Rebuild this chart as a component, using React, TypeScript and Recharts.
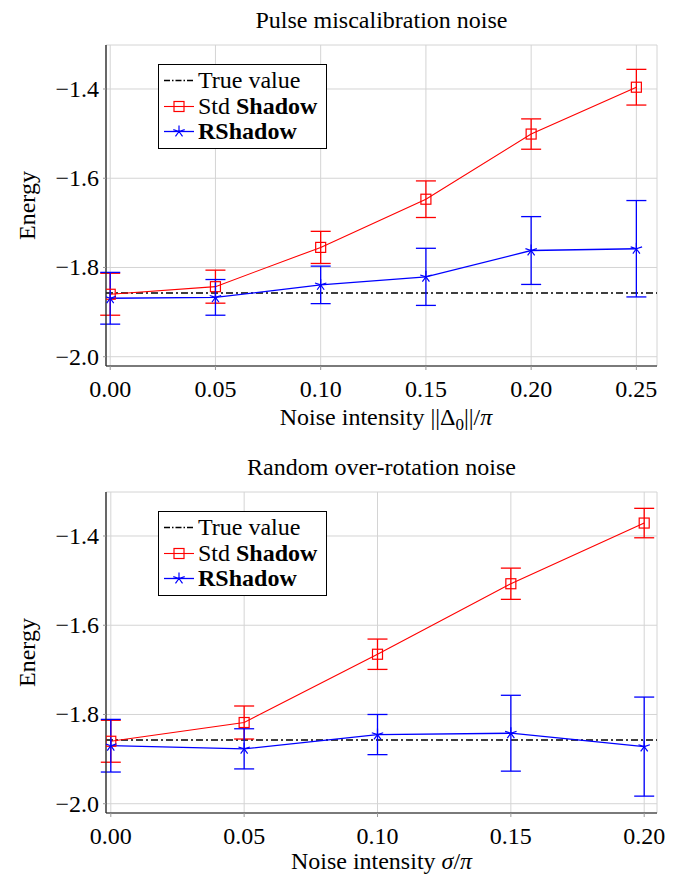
import React from 'react';
import {
  ComposedChart,
  Line,
  XAxis,
  YAxis,
  CartesianGrid,
  ErrorBar,
  ReferenceLine,
  Legend,
} from 'recharts';

const FONT = '"Liberation Serif", "Times New Roman", Times, serif';

// ---- Data: Pulse miscalibration noise ----
const pulseX = [0, 0.05, 0.1, 0.15, 0.2, 0.25];
const pulseStd = [-1.86, -1.843, -1.755, -1.647, -1.501, -1.396];
const pulseStdErr = [0.047, 0.037, 0.036, 0.041, 0.034, 0.04];
const pulseR = [-1.869, -1.867, -1.839, -1.821, -1.762, -1.758];
const pulseRErr = [0.058, 0.04, 0.042, 0.064, 0.076, 0.108];
const pulseXTicks = [0, 0.05, 0.1, 0.15, 0.2, 0.25];

// ---- Data: Random over-rotation noise ----
const overX = [0, 0.05, 0.1, 0.15, 0.2];
const overStd = [-1.86, -1.818, -1.665, -1.507, -1.371];
const overStdErr = [0.047, 0.037, 0.034, 0.035, 0.033];
const overR = [-1.87, -1.877, -1.845, -1.842, -1.872];
const overRErr = [0.059, 0.045, 0.045, 0.085, 0.111];
const overXTicks = [0, 0.05, 0.1, 0.15, 0.2];

const trueValue = -1.857;
const yTicks = [-2.0, -1.8, -1.6, -1.4];
const yDomain = [-2.0208, -1.3014];

const RED = '#ff0000';
const BLUE = '#0000ff';

const buildRows = (xs: number[], std: number[], stdErr: number[], r: number[], rErr: number[]) =>
  xs.map((x, i) => ({ x, std: std[i], stdErr: stdErr[i], rs: r[i], rsErr: rErr[i] }));

const SquareDot = (props: any) => {
  const { cx, cy, index } = props;
  if (cx == null || cy == null) return <g key={`sq-${index}`} />;
  return (
    <rect
      key={`sq-${index}`}
      x={cx - 5}
      y={cy - 5}
      width={10}
      height={10}
      fill="none"
      stroke={RED}
      strokeWidth={1.2}
    />
  );
};

const starPath = (cx: number, cy: number, r: number) => {
  let d = '';
  for (let k = 0; k < 5; k++) {
    const a = ((90 + k * 72) * Math.PI) / 180;
    d += `M${cx},${cy}L${cx + r * Math.cos(a)},${cy - r * Math.sin(a)}`;
  }
  return d;
};

const StarDot = (props: any) => {
  const { cx, cy, index } = props;
  if (cx == null || cy == null) return <g key={`st-${index}`} />;
  return <path key={`st-${index}`} d={starPath(cx, cy, 6)} stroke={BLUE} strokeWidth={1.2} fill="none" />;
};

const txt = { fontFamily: FONT, fontSize: 24, fill: '#000' };
const sty = { fontFamily: FONT };

const LegendBox = () => (
  <svg width={170} height={86} style={{ display: 'block' }}>
    <rect x={0.5} y={0.5} width={168} height={84} fill="#fff" stroke="#000" strokeWidth={1} />
    <line x1={6} x2={36} y1={16.5} y2={16.5} stroke="#000" strokeWidth={1.5} strokeDasharray="6 2 1.5 2" />
    <text x={40} y={24} {...txt} style={sty}>
      True value
    </text>
    <line x1={6} x2={36} y1={42.5} y2={42.5} stroke={RED} strokeWidth={1.1} />
    <rect x={16} y={37.5} width={10} height={10} fill="none" stroke={RED} strokeWidth={1.2} />
    <text x={40} y={50} {...txt} style={sty}>
      Std <tspan fontWeight="bold">Shadow</tspan>
    </text>
    <line x1={6} x2={36} y1={67.5} y2={67.5} stroke={BLUE} strokeWidth={1.3} />
    <path d={starPath(21, 67.5, 6)} stroke={BLUE} strokeWidth={1.2} fill="none" />
    <text x={40} y={75} {...txt} fontWeight="bold" style={sty}>
      RShadow
    </text>
  </svg>
);

const YLabel = () => (
  <text transform="translate(35, 205.5) rotate(-90)" textAnchor="middle" {...txt} style={sty}>
    Energy
  </text>
);

const PulseXLabel = () => (
  <text x={386} y={425} textAnchor="middle" {...txt} style={sty}>
    Noise intensity{'  '}
    <tspan>||Δ</tspan>
    <tspan dy={5} fontSize={17}>
      0
    </tspan>
    <tspan dy={-5}>||/</tspan>
    <tspan fontStyle="italic">π</tspan>
  </text>
);

const OverXLabel = () => (
  <text x={381.5} y={422} textAnchor="middle" {...txt} style={sty}>
    Noise intensity{'  '}
    <tspan fontStyle="italic">σ</tspan>
    <tspan>/</tspan>
    <tspan fontStyle="italic">π</tspan>
  </text>
);

const fmtY = (v: number) => (v < 0 ? '\u2212' : '') + Math.abs(v).toFixed(1);
const fmtX = (v: number) => v.toFixed(2);

const XTick = (p: any) => (
  <text x={p.x} y={p.y} dy={17} textAnchor="middle" {...txt} style={sty}>
    {fmtX(p.payload.value)}
  </text>
);

const YTick = (p: any) => (
  <text x={p.x} y={p.y} dy={8} textAnchor="end" {...txt} style={sty}>
    {fmtY(p.payload.value)}
  </text>
);

type PanelProps = {
  top: number;
  height: number;
  title: string;
  rows: any[];
  xDomain: number[];
  xTicks: number[];
  xLabel: React.ReactElement;
};

const W = 684;

const Panel = ({ top, height, title, rows, xDomain, xTicks, xLabel }: PanelProps) => (
  <div style={{ position: 'absolute', left: 0, top, width: W, height }}>
    <ComposedChart
      width={W}
      height={height}
      data={rows}
      margin={{ top: 45, right: 27, bottom: height - 366 - 30, left: 46 }}
      style={{ fontFamily: FONT }}
    >
      <CartesianGrid stroke="#d4d4d4" strokeWidth={1} />
      <XAxis
        type="number"
        dataKey="x"
        domain={xDomain}
        ticks={xTicks}
        allowDataOverflow
        tick={<XTick />}
        tickSize={4}
        tickMargin={10}
        height={30}
        axisLine={{ stroke: '#555', strokeWidth: 1.3 }}
        tickLine={{ stroke: '#999' }}
        label={xLabel}
      />
      <YAxis
        type="number"
        domain={yDomain}
        ticks={yTicks}
        allowDataOverflow
        width={60}
        tick={<YTick />}
        tickSize={3}
        tickMargin={4}
        axisLine={{ stroke: '#222', strokeWidth: 1.3 }}
        tickLine={{ stroke: '#999' }}
        label={<YLabel />}
      />
      <ReferenceLine y={trueValue} stroke="#000" strokeWidth={1.5} strokeDasharray="7 3 2 3" ifOverflow="hidden" />
      <Line
        type="linear"
        dataKey="std"
        stroke={RED}
        strokeWidth={1.1}
        dot={SquareDot}
        activeDot={false}
        isAnimationActive={false}
      >
        <ErrorBar dataKey="stdErr" direction="y" width={10} stroke={RED} strokeWidth={1.3} isAnimationActive={false} />
      </Line>
      <Line
        type="linear"
        dataKey="rs"
        stroke={BLUE}
        strokeWidth={1.3}
        dot={StarDot}
        activeDot={false}
        isAnimationActive={false}
      >
        <ErrorBar dataKey="rsErr" direction="y" width={10} stroke={BLUE} strokeWidth={1.3} isAnimationActive={false} />
      </Line>
      <Legend
        layout="vertical"
        align="center"
        verticalAlign="middle"
        content={() => <LegendBox />}
        wrapperStyle={{ position: 'absolute', left: 158, top: 64, width: 170, height: 86 }}
      />
    </ComposedChart>
    <svg width={W} height={40} style={{ position: 'absolute', left: 0, top: 0, pointerEvents: 'none' }}>
      <text x={381.5} y={28} textAnchor="middle" {...txt} style={sty}>
        {title}
      </text>
    </svg>
  </div>
);

export default function App() {
  const pulseRows = buildRows(pulseX, pulseStd, pulseStdErr, pulseR, pulseRErr);
  const overRows = buildRows(overX, overStd, overStdErr, overR, overRErr);
  return (
    <div style={{ position: 'absolute', left: 0, top: 0, width: W, height: 875, background: '#fff', overflow: 'hidden' }}>
      <Panel
        top={0}
        height={440}
        title="Pulse miscalibration noise"
        rows={pulseRows}
        xDomain={[-0.002, 0.2598]}
        xTicks={pulseXTicks}
        xLabel={<PulseXLabel />}
      />
      <Panel
        top={447}
        height={428}
        title="Random over-rotation noise"
        rows={overRows}
        xDomain={[-0.0018, 0.2048]}
        xTicks={overXTicks}
        xLabel={<OverXLabel />}
      />
    </div>
  );
}
